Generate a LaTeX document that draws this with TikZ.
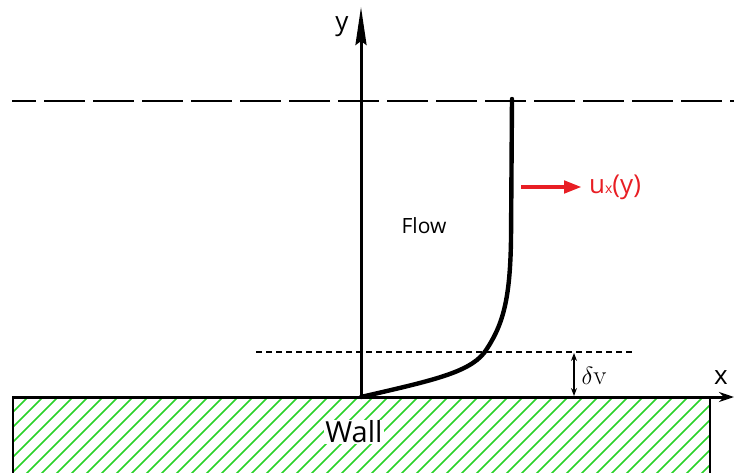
\documentclass[tikz,border=0pt]{standalone}
\usepackage{fontspec}
\setsansfont{Open Sans}
\usetikzlibrary{arrows.meta}
\definecolor{hatchgreen}{RGB}{40,210,40}
\definecolor{flowred}{RGB}{232,30,36}
\begin{document}
\begin{tikzpicture}[x=1pt,y=-1pt,
  axis/.style={line width=3pt},
  hatchline/.style={hatchgreen,line width=1.6pt},
  lbl/.style={font=\sffamily,inner sep=0pt},
]
\useasboundingbox (0,0) rectangle (734,472);
% coordinates
\coordinate (O) at (361,397);
\coordinate (yend) at (361,7);
\coordinate (xend) at (734,397);
\coordinate (wallL) at (13,397);
% hatching
\begin{scope}
\clip (13,397) rectangle (710,480);
\foreach \k in {-100,-85,...,720} {
  \draw[hatchline] (\k,480) -- (\k+95,385);
}
\end{scope}
% wall border
\draw[line width=2.6pt] (13,480) -- (wallL) -- (710,397) -- (710,480);
% Wall label
\node[lbl,fill=white,font=\sffamily\fontsize{29}{29}\selectfont,inner sep=1pt] (wall) at (354,432) {Wall};
% axes
\draw[axis,-{Stealth[length=15pt,width=10pt]}] (wallL) -- (xend);
\draw[axis,-{Stealth[length=38pt,width=11pt,inset=4pt]}] (O) -- (yend);
\node[lbl,font=\sffamily\fontsize{26}{26}\selectfont] (ylab) at (342,27) {y};
\node[lbl,font=\sffamily\fontsize{26}{26}\selectfont] (xlab) at (721,378) {x};
% dashed lines
\coordinate (d1a) at (12,101);
\coordinate (d1b) at (734,101);
\draw[line width=1.6pt,dash pattern=on 41pt off 8pt,dash phase=17pt] (d1a) -- (d1b);
\coordinate (d2a) at (256,352);
\coordinate (d2b) at (632,352);
\draw[line width=1.2pt,dash pattern=on 6pt off 4pt] (d2a) -- (d2b);
% profile
\coordinate (ptop) at (512,99);
\draw[line width=4.4pt,line cap=round] (O) .. controls (430,381) and (468,373) .. (484,353)
   .. controls (503,326) and (510,300) .. (511,240) -- (ptop);
% red arrow
\coordinate (ra) at (521,187);
\coordinate (rb) at (582,187);
\draw[flowred,line width=4.4pt,-{Triangle[length=18pt,width=12pt]}] (ra) -- (rb);
\node[lbl,anchor=west,text=flowred,font=\sffamily\fontsize{26}{26}\selectfont] (ulab) at (589,187) {u\raisebox{-0.5pt}{\fontsize{14}{14}\selectfont x}(y)};
% Flow
\node[lbl,font=\sffamily\fontsize{21}{21}\selectfont] (flow) at (424,226) {Flow};
% delta v
\coordinate (da) at (574,353);
\coordinate (db) at (574,396);
\draw[line width=1.1pt,{Stealth[length=8pt,width=6pt]}-{Stealth[length=8pt,width=6pt]}] (da) -- (db);
\node[inner sep=0pt,font=\fontsize{27}{27}\selectfont] (dv) at (594,376) {$\delta$v};
\end{tikzpicture}
\end{document}
